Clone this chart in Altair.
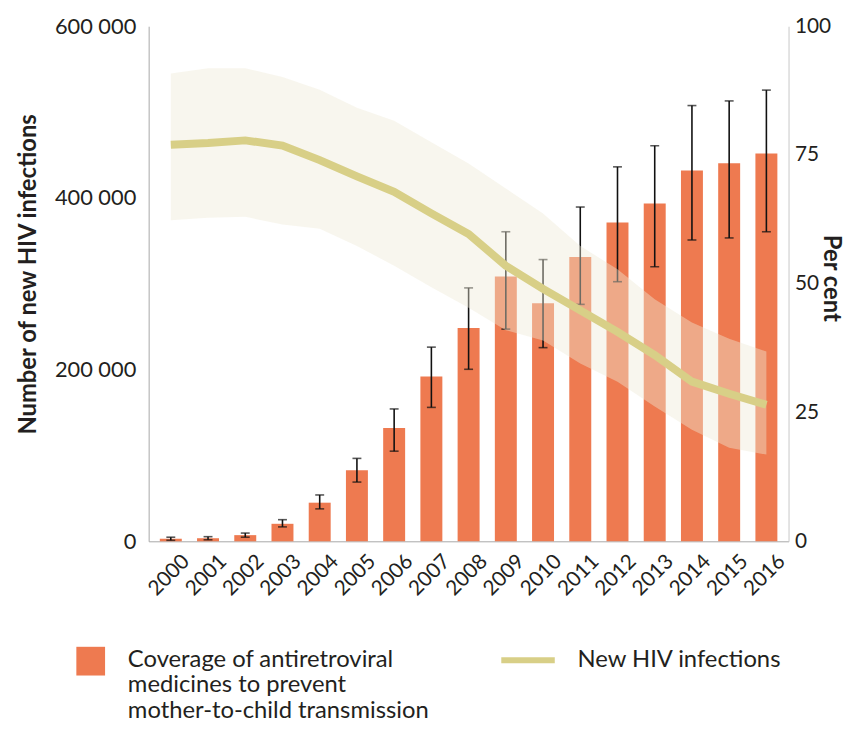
import altair as alt
import pandas as pd

years = [str(y) for y in range(2000, 2017)]
coverage = [0.5, 0.6, 1.2, 3.4, 7.5, 13.8, 22.0, 32.0, 41.4, 51.4, 46.2, 55.2, 61.9, 65.6, 72.0, 73.4, 75.3]
cov_low = [0.2, 0.3, 0.8, 2.8, 6.3, 11.5, 17.5, 26.0, 33.4, 41.2, 37.6, 46.0, 50.4, 53.3, 58.5, 58.9, 60.1]
cov_high = [0.8, 0.9, 1.6, 4.2, 9.0, 16.1, 25.7, 37.7, 49.2, 60.1, 54.7, 64.9, 72.7, 76.8, 84.6, 85.5, 87.6]

hiv = [462000, 464000, 467000, 461000, 444000, 425000, 407000, 382000, 358000, 321000, 294000, 269000, 244000, 217000, 186000, 172000, 159000]
hiv_low = [374000, 377000, 378000, 369000, 364000, 344000, 321000, 296000, 272000, 246000, 234000, 207000, 186000, 157000, 130000, 109000, 101000]
hiv_high = [545000, 551000, 551000, 541000, 526000, 505000, 490000, 465000, 440000, 411000, 382000, 344000, 317000, 282000, 255000, 236000, 221000]

bar_name = "Coverage"
bar_label = ["Coverage of antiretroviral", "medicines to prevent", "mother-to-child transmission"]
line_name = "New HIV infections"

df = pd.DataFrame({
    "year": years, "coverage": coverage, "cov_low": cov_low, "cov_high": cov_high,
    "hiv": hiv, "hiv_low": hiv_low, "hiv_high": hiv_high,
    "bar_series": [bar_name] * len(years), "line_series": [line_name] * len(years),
})

FONT = "Lato"
TXT = "#231f20"
BAR = "#EE7A50"
LINE = "#D8CF87"

x = alt.X("year:O", title=None,
          scale=alt.Scale(paddingInner=0.41, paddingOuter=0.3),
          axis=alt.Axis(labelAngle=315, ticks=False, domainColor="#a8a8a8",
                        labelFontSize=21, labelColor=TXT, labelPadding=9, labelOffset=8))

right_axis = alt.Axis(orient="right", values=[0, 25, 50, 75, 100], ticks=False, grid=False,
                      domainColor="#c8c8c8", labelFontSize=21, labelColor=TXT, labelPadding=6,
                      title="Per cent", titleFontSize=24, titleFontWeight="bold", titleColor=TXT,
                      titleAngle=90, titleX=42, titleY=254, titleBaseline="middle", titleAlign="center")
pscale = alt.Scale(domain=[0, 100])

label_js = "['" + "', '".join(bar_label) + "']"
bars = alt.Chart(df).mark_bar().encode(
    x=x,
    y=alt.Y("coverage:Q", scale=pscale, axis=right_axis),
    fill=alt.Fill("bar_series:N", scale=alt.Scale(domain=[bar_name], range=[BAR]),
                  legend=alt.Legend(orient="none", legendX=-73, legendY=632, title=None,
                                    symbolType="M-1,-1.38H1V0.62H-1Z", symbolSize=841, symbolStrokeWidth=0,
                                    labelFontSize=24, labelColor=TXT, labelLimit=500, labelOffset=23,
                                    labelBaseline="alphabetic", padding=0,
                                    labelExpr=f"datum.label == '{bar_name}' ? {label_js} : datum.label")),
)

rules = alt.Chart(df).mark_rule(color="#111111", strokeWidth=1.6).encode(
    x=x,
    y=alt.Y("cov_low:Q", scale=pscale, axis=right_axis),
    y2="cov_high:Q",
)
tick_lo = alt.Chart(df).mark_tick(color="#111111", thickness=1.6, size=9).encode(
    x=x, y=alt.Y("cov_low:Q", scale=pscale, axis=right_axis))
tick_hi = alt.Chart(df).mark_tick(color="#111111", thickness=1.6, size=9).encode(
    x=x, y=alt.Y("cov_high:Q", scale=pscale, axis=right_axis))

left_axis = alt.Axis(orient="left", values=[0, 200000, 400000, 600000], ticks=False, grid=False,
                     domainColor="#a8a8a8", labelFontSize=22, labelColor=TXT, labelPadding=13,
                     labelExpr="replace(format(datum.value, ','), ',', ' ')",
                     title="Number of new HIV infections", titleFontSize=24, titleFontWeight="bold",
                     titleColor=TXT, titleAngle=270, titleX=-121, titleY=250,
                     titleBaseline="middle", titleAlign="center")
nscale = alt.Scale(domain=[0, 600000])

band = alt.Chart(df).mark_area(color="#EEEAD6", opacity=0.42).encode(
    x=x,
    y=alt.Y("hiv_low:Q", scale=nscale, axis=left_axis),
    y2="hiv_high:Q",
)
line = alt.Chart(df).mark_line(strokeWidth=8).encode(
    x=x,
    y=alt.Y("hiv:Q", scale=nscale, axis=left_axis),
    stroke=alt.Stroke("line_series:N", scale=alt.Scale(domain=[line_name], range=[LINE]),
                      legend=alt.Legend(orient="none", legendX=353, legendY=610, title=None,
                                        symbolType="stroke", symbolSize=2916, symbolStrokeWidth=6,
                                        labelFontSize=24, labelColor=TXT, labelLimit=500,
                                        labelOffset=20, padding=0)),
)

g1 = alt.layer(bars, rules, tick_lo, tick_hi)
g2 = alt.layer(band, line)

chart = alt.layer(g1, g2).resolve_scale(y="independent", fill="independent", stroke="independent").properties(
    width=646, height=520,
    autosize=alt.AutoSizeParams(type="none"),
    padding={"left": 142, "top": 15, "right": 57, "bottom": 179},
).configure(font=FONT).configure_view(stroke=None)

chart.save("out.html", embed_options={"renderer": "svg", "actions": False})
